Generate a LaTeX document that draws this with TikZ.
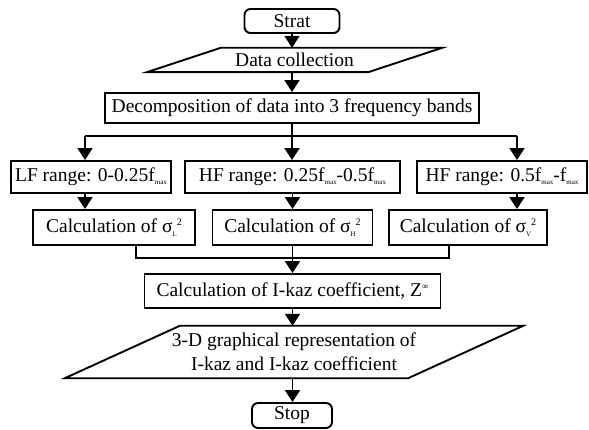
\documentclass[tikz,border=0pt]{standalone}
\usepackage{fontspec}
\setmainfont{Liberation Serif}
\usetikzlibrary{arrows.meta,calc}
\newcommand\fmax{f\raisebox{-2.5pt}{\fontsize{7}{7}\selectfont max}}
\newcommand\sig[1]{σ\raisebox{-4pt}{\fontsize{7}{7}\selectfont #1}\raisebox{7pt}{\fontsize{10}{10}\selectfont 2}}
\begin{document}
\begin{tikzpicture}[x=1pt,y=-1pt,
  every node/.style={font=\fontsize{19.5}{24}\selectfont, inner sep=0pt},
  box/.style={draw, line width=1.9pt, rectangle},
  term/.style={box, rounded corners=6pt},
  link/.style={line width=1.9pt},
  arr/.style={link, -{Triangle[width=15pt,length=12pt]}}
]
\useasboundingbox (0,0) rectangle (589,430);

% nodes
\node[term, minimum width=95pt, minimum height=24pt] (start) at (292,21) {Strat};
\node[minimum width=221pt, minimum height=24pt] (data) at (294.5,60) {Data collection};
\draw[link] ($(data.south west)+(-37,0)$) -- ($(data.north west)+(37,0)$) -- ($(data.north east)+(37,0)$) -- ($(data.south east)+(-37,0)$) -- cycle;

\node[box, minimum width=374pt, minimum height=30pt] (dec) at (292,108) {Decomposition of data into 3 frequency bands};

\node[box, minimum width=160pt, minimum height=32pt] (lf) at (91,177) {LF range: 0-0.25\fmax};
\node[box, minimum width=215pt, minimum height=32pt] (hm) at (292.5,177) {HF range: 0.25\fmax-0.5\fmax};
\node[box, minimum width=170pt, minimum height=32pt] (hr) at (502,177) {HF range: 0.5\fmax-\fmax};

\node[box, minimum width=162pt, minimum height=35pt] (cl) at (114,227.5) {Calculation of \sig{L}};
\node[box, minimum width=160pt, minimum height=35pt] (ch) at (292.5,227.5) {Calculation of \sig{H}};
\node[box, minimum width=158pt, minimum height=35pt] (cv) at (468,227.5) {Calculation of \sig{V}};

\node[box, minimum width=296pt, minimum height=34pt] (ik) at (292.5,291) {Calculation of I-kaz coefficient, Z\raisebox{7pt}{\fontsize{9}{9}\selectfont ∞}};

\node[minimum width=343pt, minimum height=52pt, align=center] (rep) at (294,352) {3-D graphical representation of\\I-kaz and I-kaz coefficient};
\draw[link] ($(rep.south west)+(-57.5,0)$) -- ($(rep.north west)+(57.5,0)$) -- ($(rep.north east)+(57.5,0)$) -- ($(rep.south east)+(-57.5,0)$) -- cycle;

\node[term, minimum width=80pt, minimum height=25pt] (stop) at (292,415.5) {Stop};

% connectors
\coordinate (barL) at (85,136);
\coordinate (barR) at (517,136);
\coordinate (mL) at (136,258);
\coordinate (mR) at (449,258);

\draw[arr] (start.south) -- (start.south |- data.north);
\draw[arr] (start.south |- data.south) -- (start.south |- dec.north);
\draw[link] (barL) -- (barR);
\draw[arr] (dec.south) -- (dec.south |- hm.north);
\draw[arr] (barL) -- (barL |- lf.north);
\draw[arr] (barR) -- (barR |- hr.north);

\draw[arr] (barL |- lf.south) -- (barL |- cl.north);
\draw[arr] (hm.south) -- (hm.south |- ch.north);
\draw[arr] (barR |- hr.south) -- (barR |- cv.north);

\draw[link] (mL |- cl.south) -- (mL) -- (mR) -- (mR |- cv.south);
\draw[arr] (ch.south) -- (ch.south |- ik.north);
\draw[arr] (ik.south) -- (ik.south |- rep.north);
\draw[arr] (ik.south |- rep.south) -- (ik.south |- stop.north);
\end{tikzpicture}
\end{document}
